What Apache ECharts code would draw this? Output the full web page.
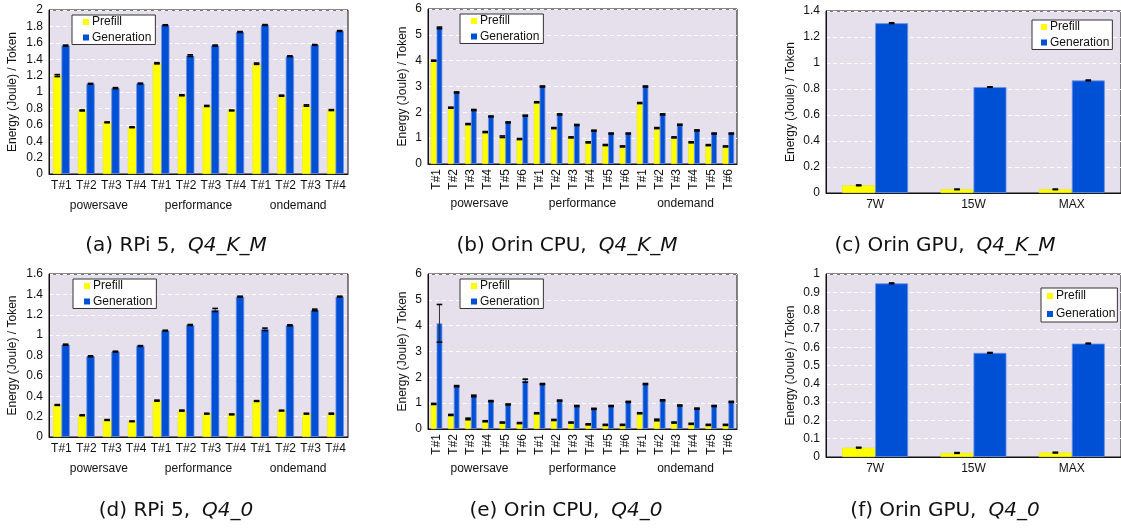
<!DOCTYPE html>
<html><head><meta charset="utf-8">
<script src="https://cdn.jsdelivr.net/npm/echarts@6/dist/echarts.min.js"></script>
<style>html,body{margin:0;padding:0;background:#fff}#c{width:1121px;height:529px}</style>
</head><body><div id="c"></div><script>
// ---- categories / labels ----
const tCats4 = ['T#1','T#2','T#3','T#4'];
const tCats6 = ['T#1','T#2','T#3','T#4','T#5','T#6'];
const governors = ['powersave','performance','ondemand'];
const gpuModes = ['7W','15W','MAX'];
const seriesNames = ['Prefill','Generation'];
const yName = 'Energy (Joule) / Token';

// ---- (a) RPi 5, Q4_K_M ----
const aPrefill = [1.20,0.775,0.63,0.57, 1.35,0.96,0.83,0.775, 1.345,0.955,0.835,0.78];
const aPrefillErr = [0.012,0.006,0.005,0.005, 0.007,0.006,0.006,0.005, 0.008,0.006,0.008,0.006];
const aGen = [1.566,1.10,1.047,1.103, 1.815,1.444,1.566,1.732, 1.817,1.436,1.574,1.744];
const aGenErr = [0.006,0.005,0.006,0.005, 0.005,0.01,0.006,0.005, 0.005,0.005,0.005,0.005];
// ---- (b) Orin CPU, Q4_K_M ----
const bPrefill = [4.0,2.18,1.545,1.236,1.056,0.966, 2.39,1.39,1.03,0.837,0.734,0.68, 2.36,1.39,1.03,0.84,0.73,0.68];
const bPrefillErr = [0.02,0.02,0.02,0.02,0.03,0.02, 0.02,0.02,0.02,0.02,0.02,0.02, 0.02,0.02,0.02,0.02,0.02,0.02];
const bGen = [5.27,2.77,2.09,1.84,1.61,1.87, 3.0,1.92,1.51,1.29,1.18,1.18, 3.0,1.92,1.52,1.30,1.18,1.18];
const bGenErr = [0.03,0.02,0.02,0.02,0.02,0.02, 0.02,0.02,0.02,0.02,0.02,0.02, 0.02,0.02,0.02,0.02,0.02,0.02];
// ---- (c) Orin GPU, Q4_K_M ----
const cPrefill = [0.059,0.028,0.028];
const cPrefillErr = [0.003,0.002,0.002];
const cGen = [1.306,0.815,0.866];
const cGenErr = [0.003,0.002,0.003];
// ---- (d) RPi 5, Q4_0 ----
const dPrefill = [0.314,0.213,0.167,0.154, 0.357,0.259,0.229,0.222, 0.353,0.259,0.229,0.229];
const dPrefillErr = [0.004,0.004,0.004,0.003, 0.005,0.005,0.004,0.004, 0.004,0.004,0.004,0.005];
const dGen = [0.906,0.792,0.838,0.893, 1.044,1.10,1.247,1.378, 1.057,1.096,1.247,1.378];
const dGenErr = [0.005,0.005,0.004,0.004, 0.004,0.004,0.015,0.004, 0.012,0.005,0.008,0.004];
// ---- (e) Orin CPU, Q4_0 ----
const ePrefill = [0.97,0.544,0.39,0.30,0.25,0.23, 0.61,0.35,0.25,0.18,0.16,0.16, 0.61,0.35,0.25,0.20,0.16,0.16];
const ePrefillErr = [0.02,0.02,0.03,0.02,0.02,0.02, 0.02,0.02,0.02,0.02,0.02,0.02, 0.02,0.03,0.02,0.02,0.02,0.02];
const eGen = [4.09,1.66,1.28,1.08,0.95,1.87, 1.74,1.10,0.89,0.78,0.89,1.05, 1.74,1.11,0.91,0.79,0.89,1.05];
const eGenErr = [0.73,0.02,0.03,0.02,0.02,0.06, 0.02,0.02,0.02,0.02,0.02,0.02, 0.02,0.02,0.02,0.02,0.02,0.02];
// ---- (f) Orin GPU, Q4_0 ----
const fPrefill = [0.051,0.022,0.024];
const fPrefillErr = [0.002,0.002,0.002];
const fGen = [0.949,0.569,0.620];
const fGenErr = [0.002,0.002,0.002];

const cpuCats4 = governors.flatMap(() => tCats4);
const cpuCats6 = governors.flatMap(() => tCats6);

const FONT = "'Liberation Sans', Arial, Helvetica, sans-serif";
const CAPFONT = "'DejaVu Sans', sans-serif";
const YELLOW = '#ffff00', BLUE = '#0050d6';
const GAP = 0.33;

const panels = [
  {cats:cpuCats4, groups:governors, p:aPrefill, pe:aPrefillErr, g:aGen, ge:aGenErr, ymax:2, yint:0.2,
   grid:{left:49,top:10,width:299,height:164}, rot:0, lblMargin:6, grpOffset:18, nameGap:30,
   legend:{left:72,top:15,gap:1.5,pad:[0,4,0,11]}, cap:{x:176,y:246,a:'(a) RPi 5,',b:'Q4_K_M'}},
  {cats:cpuCats6, groups:governors, p:bPrefill, pe:bPrefillErr, g:bGen, ge:bGenErr, ymax:6, yint:1,
   grid:{left:428,top:9,width:309,height:155}, rot:90, lblMargin:5, grpOffset:26, nameGap:19,
   legend:{left:460,top:14,gap:1.5,pad:[0,4,0,11]}, cap:{x:567,y:246,a:'(b) Orin CPU,',b:'Q4_K_M'}},
  {cats:gpuModes, groups:null, p:cPrefill, pe:cPrefillErr, g:cGen, ge:cGenErr, ymax:1.4, yint:0.2,
   grid:{left:826,top:11,width:299,height:182}, rot:0, lblMargin:6, nameGap:29,
   legend:{left:1032,top:20,gap:1.5,pad:[0,3,0,9]}, cap:{x:945,y:246,a:'(c) Orin GPU,',b:'Q4_K_M'}},
  {cats:cpuCats4, groups:governors, p:dPrefill, pe:dPrefillErr, g:dGen, ge:dGenErr, ymax:1.6, yint:0.2,
   grid:{left:49,top:274,width:299,height:163}, rot:0, lblMargin:6, grpOffset:18, nameGap:30,
   legend:{left:73,top:279,gap:1.5,pad:[0,4,0,11]}, cap:{x:176,y:511,a:'(d) RPi 5,',b:'Q4_0'}},
  {cats:cpuCats6, groups:governors, p:ePrefill, pe:ePrefillErr, g:eGen, ge:eGenErr, ymax:6, yint:1,
   grid:{left:428,top:274,width:309,height:155}, rot:90, lblMargin:5, grpOffset:26, nameGap:19,
   legend:{left:460,top:279,gap:1.5,pad:[0,4,0,11]}, cap:{x:566,y:511,a:'(e) Orin CPU,',b:'Q4_0'}},
  {cats:gpuModes, groups:null, p:fPrefill, pe:fPrefillErr, g:fGen, ge:fGenErr, ymax:1, yint:0.1,
   grid:{left:826,top:274,width:299,height:183}, rot:0, lblMargin:6, nameGap:29,
   legend:{left:1041,top:288,gap:4,pad:[1,2,1,6]}, cap:{x:945,y:511,a:'(f) Orin GPU,',b:'Q4_0'}}
];

function errSeries(xi, yi, vals, errs, side) {
  return {
    type:'custom', xAxisIndex:xi, yAxisIndex:yi, z:10, silent:true,
    data: vals.map((v,i)=>[i, v, errs[i]]),
    encode:{x:0, y:1},
    renderItem(params, api) {
      const ci = api.value(0), v = api.value(1), e = api.value(2);
      const c = api.coord([ci, v]);
      const band = api.size([1,0])[0];
      const bw = band*(1-GAP)/2;
      const cx = c[0] + side*bw/2;
      const hi = api.coord([ci, v+e])[1];
      const lo = api.coord([ci, v-e])[1];
      const hw = 2.8;
      const st = {stroke:'#000', lineWidth:1.6};
      return {type:'group', children:[
        {type:'line', shape:{x1:cx,y1:hi,x2:cx,y2:lo}, style:{stroke:'#333', lineWidth:1}},
        {type:'line', shape:{x1:cx-hw,y1:hi,x2:cx+hw,y2:hi}, style:st},
        {type:'line', shape:{x1:cx-hw,y1:lo,x2:cx+hw,y2:lo}, style:st}
      ]};
    }
  };
}

const grids=[], xAxes=[], yAxes=[], series=[], legends=[], graphics=[];
panels.forEach((pn, k) => {
  grids.push(Object.assign({show:true, backgroundColor:'#e6e0ec', borderColor:'#111', borderWidth:1, containLabel:false}, pn.grid));
  const xi = xAxes.length;
  xAxes.push({type:'category', gridIndex:k, data:pn.cats, position:'bottom',
    axisLine:{show:true, lineStyle:{color:'#111', width:1}}, axisTick:{show:false},
    axisLabel:{interval:0, rotate:pn.rot, margin:pn.lblMargin, color:'#111', fontSize:12, fontFamily:FONT}});
  if (pn.groups) {
    xAxes.push({type:'category', gridIndex:k, data:pn.groups, position:'bottom', offset:pn.grpOffset,
      axisLine:{show:false}, axisTick:{show:false},
      axisLabel:{interval:0, margin:8, color:'#111', fontSize:12, fontFamily:FONT}});
  }
  yAxes.push({type:'value', gridIndex:k, min:0, max:pn.ymax, interval:pn.yint,
    name:yName, nameLocation:'middle', nameGap:pn.nameGap,
    nameTextStyle:{color:'#111', fontSize:12, fontFamily:FONT},
    axisLine:{show:true, lineStyle:{color:'#111'}}, axisTick:{show:false},
    axisLabel:{color:'#111', fontSize:12, fontFamily:FONT, margin:6},
    splitLine:{show:true, lineStyle:{color:'#ffffff', type:[4,3], width:1}}});
  series.push({type:'bar', name:seriesNames[0], xAxisIndex:xi, yAxisIndex:k, data:pn.p,
    barGap:'0%', barCategoryGap:(GAP*100)+'%',
    itemStyle:{color:YELLOW, borderColor:'#e8e800', borderWidth:0.5}});
  series.push({type:'bar', name:seriesNames[1], xAxisIndex:xi, yAxisIndex:k, data:pn.g,
    barGap:'0%', barCategoryGap:(GAP*100)+'%',
    itemStyle:{color:BLUE, borderColor:'#6d93e6', borderWidth:0.8}});
  series.push(errSeries(xi, k, pn.p, pn.pe, -1));
  series.push(errSeries(xi, k, pn.g, pn.ge, 1));
  legends.push({show:true, left:pn.legend.left, top:pn.legend.top, orient:'vertical',
    data:seriesNames.map(n=>({name:n, icon:'rect'})), itemWidth:6, itemHeight:6, itemGap:pn.legend.gap,
    itemStyle:{borderWidth:0},
    padding:pn.legend.pad, backgroundColor:'#ffffff', borderColor:'#333', borderWidth:1,
    selectedMode:false, textStyle:{fontSize:12, fontFamily:FONT, color:'#111', lineHeight:14, padding:[0,0,0,-2]}});
  graphics.push({type:'text', x:pn.cap.x, y:pn.cap.y, silent:true,
    style:{text:'{n|'+pn.cap.a+'}{i|'+pn.cap.b+'}', align:'center', verticalAlign:'middle',
      rich:{n:{fontSize:20, fontFamily:CAPFONT, fill:'#111'},
            i:{fontSize:20, fontFamily:CAPFONT, fontStyle:'italic', fill:'#111', padding:[0,0,0,12]}}}});
});

const chart = echarts.init(document.getElementById('c'), null, {renderer:'canvas'});
chart.setOption({animation:false, backgroundColor:'#fff', grid:grids, xAxis:xAxes, yAxis:yAxes,
  series:series, legend:legends, graphic:graphics});
</script></body></html>
